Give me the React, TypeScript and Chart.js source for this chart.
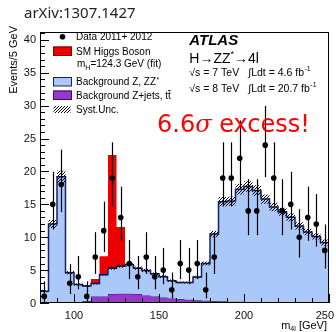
import React, { useEffect, useRef } from 'react';
import { Chart, registerables } from 'chart.js';

Chart.register(...registerables);

// ---- data ----
const binEdges = [80, 85, 90, 95, 100, 105, 110, 115, 120, 125, 130, 135, 140, 145, 150, 155, 160, 165, 170, 175, 180, 185, 190, 195, 200, 205, 210, 215, 220, 225, 230, 235, 240, 245, 250];
const binCenters = [82.5, 87.5, 92.5, 97.5, 102.5, 107.5, 112.5, 117.5, 122.5, 127.5, 132.5, 137.5, 142.5, 147.5, 152.5, 157.5, 162.5, 167.5, 172.5, 177.5, 182.5, 187.5, 192.5, 197.5, 202.5, 207.5, 212.5, 217.5, 222.5, 227.5, 232.5, 237.5, 242.5, 247.5];
const dataCounts = [1, 15, 18, 3, 4, 1, 7, 11, 19, 13, 6, 4, 7, 4, 5, 2, 6, 5, 6, 2, 7, 19, 19, 22, 14, 14, 24, 19, 14, 15, 10, 13, 12, 8];
const zjetsTtbar = [0.05, 0.05, 0.05, 0.05, 0.1, 0.3, 1.0, 1.0, 1.35, 1.4, 1.4, 1.35, 1.15, 1.0, 0.85, 0.7, 0.6, 0.5, 0.4, 0.35, 0.3, 0.25, 0.2, 0.18, 0.15, 0.12, 0.1, 0.1, 0.08, 0.07, 0.06, 0.05, 0.05, 0.05];
const zzStar = [1.75, 11.95, 19.15, 4.55, 2.7, 2.3, 1.95, 3.3, 3.95, 4.2, 4.4, 3.95, 3.8, 3.45, 3.15, 2.7, 2.5, 2.6, 3.55, 5.65, 10.2, 15.15, 15.3, 17.1, 17.55, 17.0, 15.7, 14.5, 13.8, 12.95, 11.65, 10.75, 10.05, 9.15];
const higgsSignal = [0, 0, 0, 0, 0, 0.1, 0.7, 2.8, 17.2, 5.95, 0.15, 0, 0, 0, 0, 0, 0, 0, 0, 0, 0, 0, 0, 0, 0, 0, 0, 0, 0, 0, 0, 0, 0, 0];
const systUnc = [0.15, 0.6, 0.9, 0.25, 0.15, 0.15, 0.15, 0.2, 0.25, 0.25, 0.25, 0.25, 0.22, 0.2, 0.2, 0.17, 0.15, 0.15, 0.2, 0.3, 0.5, 0.7, 0.7, 0.8, 0.8, 0.8, 0.7, 0.65, 0.6, 0.6, 0.55, 0.5, 0.45, 0.45];
const xTickValues = [100, 150, 200, 250];
const yTickValues = [0, 5, 10, 15, 20, 25, 30, 35, 40];

const X_MIN = 80;
const X_MAX = 250;
const Y_MAX = 41.2;

const SANS = "'Liberation Sans', Arial, sans-serif";

// Garwood (68.3%) Poisson interval, Wilson-Hilferty approximation
function poissonLow(n: number) {
  if (n <= 0) return 0;
  return n * Math.pow(1 - 1 / (9 * n) - 1 / (3 * Math.sqrt(n)), 3);
}
function poissonHigh(n: number) {
  const m = n + 1;
  return m * Math.pow(1 - 1 / (9 * m) + 1 / (3 * Math.sqrt(m)), 3);
}

function stepPoints(vals: number[]) {
  return binEdges.map((x, i) => ({ x, y: vals[Math.min(i, vals.length - 1)] }));
}

function makeHatch(): CanvasPattern | string {
  const c = document.createElement('canvas');
  const s = 3;
  c.width = s;
  c.height = s;
  const g = c.getContext('2d');
  if (!g) return 'rgba(0,0,0,0.5)';
  g.strokeStyle = '#000';
  g.lineWidth = 1;
  g.beginPath();
  g.moveTo(0, s);
  g.lineTo(s, 0);
  g.moveTo(-1, 1);
  g.lineTo(1, -1);
  g.moveTo(s - 1, s + 1);
  g.lineTo(s + 1, s - 1);
  g.stroke();
  const p = g.createPattern(c, 'repeat');
  return p || 'rgba(0,0,0,0.5)';
}

export default function App() {
  const ref = useRef<HTMLCanvasElement | null>(null);

  useEffect(() => {
    const canvas = ref.current;
    if (!canvas) return;
    const hatch = makeHatch();

    const purpleTop = zjetsTtbar.slice();
    const blueTop = zjetsTtbar.map((v, i) => v + zzStar[i]);
    const redTop = blueTop.map((v, i) => v + higgsSignal[i]);
    const systHi = blueTop.map((v, i) => v + systUnc[i]);
    const systLo = blueTop.map((v, i) => v - systUnc[i]);

    const errorBarPlugin = {
      id: 'errorBars',
      beforeDatasetDraw(chart: any, args: any) {
        if (args.index !== 0) return;
        const { ctx, scales } = chart;
        const x = scales.x;
        const y = scales.y;
        ctx.save();
        ctx.strokeStyle = '#000';
        ctx.lineWidth = 1.2;
        dataCounts.forEach((n, i) => {
          const px = Math.round(x.getPixelForValue(binCenters[i])) + 0.5;
          ctx.beginPath();
          ctx.moveTo(px, y.getPixelForValue(poissonLow(n)));
          ctx.lineTo(px, y.getPixelForValue(poissonHigh(n)));
          ctx.stroke();
        });
        ctx.restore();
      },
    };

    const framePlugin = {
      id: 'frame',
      afterDatasetsDraw(chart: any) {
        const { ctx, chartArea, scales } = chart;
        const x = scales.x;
        const y = scales.y;
        const { left, right, top, bottom } = chartArea;
        ctx.save();
        ctx.strokeStyle = '#000';
        ctx.lineWidth = 1;
        ctx.strokeRect(left + 0.5, top + 0.5, right - left - 1, bottom - top - 1);
        ctx.beginPath();
        for (let v = 0; v <= Y_MAX; v += 1) {
          const py = Math.round(y.getPixelForValue(v)) + 0.5;
          const len = v % 5 === 0 ? 9 : 5;
          ctx.moveTo(left, py);
          ctx.lineTo(left + len, py);
        }
        for (let v = 90; v <= X_MAX; v += 10) {
          const px = Math.round(x.getPixelForValue(v)) + 0.5;
          const len = v % 50 === 0 ? 9 : 5;
          ctx.moveTo(px, bottom);
          ctx.lineTo(px, bottom - len);
        }
        ctx.stroke();

        // tick labels
        ctx.fillStyle = '#111';
        ctx.font = `11px ${SANS}`;
        ctx.textAlign = 'right';
        ctx.textBaseline = 'middle';
        yTickValues.forEach((v) => {
          ctx.fillText(String(v), left - 4, y.getPixelForValue(v) + 0.5);
        });
        ctx.textBaseline = 'alphabetic';
        xTickValues.forEach((v) => {
          const px = x.getPixelForValue(v);
          const w = ctx.measureText(String(v)).width;
          let lx = px - w / 2;
          if (lx + w > 334) lx = 334 - w;
          ctx.textAlign = 'left';
          ctx.fillText(String(v), lx, 318.5);
        });
        ctx.restore();
      },
    };

    const textPlugin = {
      id: 'texts',
      afterDraw(chart: any) {
        const ctx: CanvasRenderingContext2D = chart.ctx;
        ctx.save();
        ctx.textBaseline = 'alphabetic';
        ctx.textAlign = 'left';

        // title
        ctx.fillStyle = '#222';
        ctx.font = "15px 'Noto Sans', sans-serif";
        ctx.fillText('arXiv:1307.1427', 24, 18);

        // y axis title
        ctx.save();
        ctx.fillStyle = '#000';
        ctx.translate(16.5, 26);
        ctx.rotate(-Math.PI / 2);
        ctx.textAlign = 'right';
        ctx.font = `11px ${SANS}`;
        ctx.fillText('Events/5 GeV', 0, 0);
        ctx.restore();

        // x axis title: m_4l [GeV]
        ctx.fillStyle = '#000';
        ctx.font = `11px ${SANS}`;
        const tail = ' [GeV]';
        const wTail = ctx.measureText(tail).width;
        const wM = ctx.measureText('m').width;
        ctx.font = `7px ${SANS}`;
        const wSub = ctx.measureText('4l').width;
        let xx = 327 - wTail - wSub - wM;
        ctx.font = `11px ${SANS}`;
        ctx.fillText('m', xx, 329);
        xx += wM;
        ctx.font = `7px ${SANS}`;
        ctx.fillText('4l', xx, 331);
        xx += wSub;
        ctx.font = `11px ${SANS}`;
        ctx.fillText(tail, xx, 329);

        // legend
        const lf = `10px ${SANS}`;
        ctx.font = lf;
        ctx.fillStyle = '#000';
        ctx.beginPath();
        ctx.arc(62.5, 36.7, 2.8, 0, Math.PI * 2);
        ctx.fill();
        ctx.fillText('Data 2011+ 2012', 76, 40.3);

        const box = (y0: number, fill: any, stroke: string | null) => {
          ctx.fillStyle = fill;
          ctx.fillRect(53.5, y0, 18, 9);
          if (stroke) {
            ctx.strokeStyle = stroke;
            ctx.lineWidth = 1;
            ctx.strokeRect(53.5, y0 + 0.5, 18, 8.5);
          }
        };
        box(46.5, '#ee0000', '#7a0000');
        ctx.fillStyle = '#000';
        ctx.fillText('SM Higgs Boson', 76, 54.6);

        ctx.fillText('m', 77, 67);
        let mx = 77 + ctx.measureText('m').width;
        ctx.font = `7px ${SANS}`;
        ctx.fillText('H', mx, 69.5);
        mx += ctx.measureText('H').width;
        ctx.font = lf;
        ctx.fillText('=124.3 GeV (fit)', mx, 67);

        box(77, '#aac8f8', '#16206a');
        ctx.fillStyle = '#000';
        const bz = 'Background Z, ZZ';
        ctx.fillText(bz, 76, 85.3);
        const bzw = ctx.measureText(bz).width;
        ctx.font = `7px ${SANS}`;
        ctx.fillText('*', 76 + bzw + 0.5, 82);
        ctx.font = lf;

        box(90.5, '#9a35d0', '#3a1060');
        ctx.fillStyle = '#000';
        const bj = 'Background Z+jets, tt';
        ctx.fillText(bj, 76, 98.6);
        const bjw = ctx.measureText(bj).width;
        const tw = ctx.measureText('t').width;
        ctx.strokeStyle = '#000';
        ctx.lineWidth = 0.8;
        ctx.beginPath();
        ctx.moveTo(76 + bjw - tw, 90.5);
        ctx.lineTo(76 + bjw, 90.5);
        ctx.stroke();

        ctx.fillStyle = hatch as any;
        ctx.fillRect(53.5, 106, 17, 7);
        ctx.fillStyle = '#000';
        ctx.fillText('Syst.Unc.', 76, 112.9);

        // ATLAS block
        const ax = 189.3;
        ctx.font = `italic bold 15px ${SANS}`;
        ctx.fillText('ATLAS', ax, 45);
        ctx.font = `14px ${SANS}`;
        const p1 = 'H\u2192ZZ';
        ctx.fillText(p1, ax, 63);
        let hx = ax + ctx.measureText(p1).width;
        ctx.font = `9px ${SANS}`;
        ctx.fillText('*', hx, 57);
        hx += ctx.measureText('*').width;
        ctx.font = `14px ${SANS}`;
        ctx.fillText('\u21924l', hx, 63);

        const lumiLine = (yb: number, sq: string, lumi: string) => {
          ctx.font = `10.5px ${SANS}`;
          ctx.fillText('\u221As = ' + sq + ' TeV', ax, yb);
          const l = '\u222BLdt = ' + lumi + ' fb';
          ctx.fillText(l, 248.3, yb);
          const lw = ctx.measureText(l).width;
          ctx.font = `7px ${SANS}`;
          ctx.fillText('-1', 248.3 + lw + 0.5, yb - 5);
        };
        lumiLine(76, '7', '4.6');
        lumiLine(92, '8', '20.7');

        // 6.6 sigma excess
        ctx.fillStyle = '#ff0000';
        ctx.font = "24px 'DejaVu Sans', sans-serif";
        let ex = 157;
        ctx.fillText('6.6', ex, 132);
        ex += ctx.measureText('6.6').width;
        ctx.font = "italic 24px 'DejaVu Serif', serif";
        ctx.fillText('\u03C3', ex, 132);
        ex += ctx.measureText('\u03C3').width;
        ctx.font = "24px 'DejaVu Sans', sans-serif";
        ctx.fillText(' excess!', ex, 132);

        ctx.restore();
      },
    };

    const lineBase = {
      type: 'line' as const,
      stepped: true as const,
      pointRadius: 0,
      pointHoverRadius: 0,
    };

    const chart = new Chart(canvas, {
      type: 'line',
      data: {
        datasets: [
          {
            type: 'line',
            label: 'Data 2011+ 2012',
            data: binCenters.map((x, i) => ({ x, y: dataCounts[i] })),
            showLine: false,
            pointRadius: 2.8,
            pointBackgroundColor: '#000',
            pointBorderColor: '#000',
            pointBorderWidth: 0,
            order: 0,
          } as any,
          {
            ...lineBase,
            label: 'Syst.Unc. hi',
            data: stepPoints(systHi),
            borderWidth: 0,
            borderColor: 'rgba(0,0,0,0)',
            backgroundColor: hatch as any,
            fill: '+1',
            order: 1,
          } as any,
          {
            ...lineBase,
            label: 'Syst.Unc. lo',
            data: stepPoints(systLo),
            borderWidth: 0,
            borderColor: 'rgba(0,0,0,0)',
            fill: false,
            order: 1,
          } as any,
          {
            ...lineBase,
            label: 'SM Higgs Boson',
            data: stepPoints(redTop),
            borderWidth: 0,
            borderColor: 'rgba(0,0,0,0)',
            backgroundColor: '#ee0000',
            fill: '+1',
            order: 3,
          } as any,
          {
            ...lineBase,
            label: 'Background Z, ZZ*',
            data: stepPoints(blueTop),
            borderWidth: 1.5,
            borderColor: '#16206a',
            backgroundColor: '#aac8f8',
            fill: '+1',
            order: 2,
          } as any,
          {
            ...lineBase,
            label: 'Background Z+jets, tt',
            data: stepPoints(purpleTop),
            borderWidth: 1,
            borderColor: '#4a1680',
            backgroundColor: '#9a35d0',
            fill: 'origin',
            order: 4,
          } as any,
        ],
      },
      options: {
        responsive: false,
        animation: false,
        devicePixelRatio: 1,
        layout: { padding: { left: 0, right: 7, top: 32, bottom: 0 }, autoPadding: false } as any,
        plugins: {
          legend: { display: false },
          tooltip: { enabled: false },
        },
        scales: {
          x: {
            type: 'linear',
            min: X_MIN,
            max: X_MAX,
            grid: { display: false, drawTicks: false },
            border: { display: false },
            ticks: { display: false },
            afterFit: (s: any) => {
              s.height = 29;
            },
          },
          y: {
            type: 'linear',
            min: 0,
            max: Y_MAX,
            grid: { display: false, drawTicks: false },
            border: { display: false },
            ticks: { display: false },
            afterFit: (s: any) => {
              s.width = 40;
            },
          },
        },
      },
      plugins: [errorBarPlugin, framePlugin, textPlugin],
    });

    return () => chart.destroy();
  }, []);

  return (
    <div style={{ position: 'fixed', left: 0, top: 0, width: 336, height: 332, background: '#fff' }}>
      <canvas ref={ref} width={336} height={332} style={{ width: 336, height: 332, display: 'block' }} />
    </div>
  );
}
